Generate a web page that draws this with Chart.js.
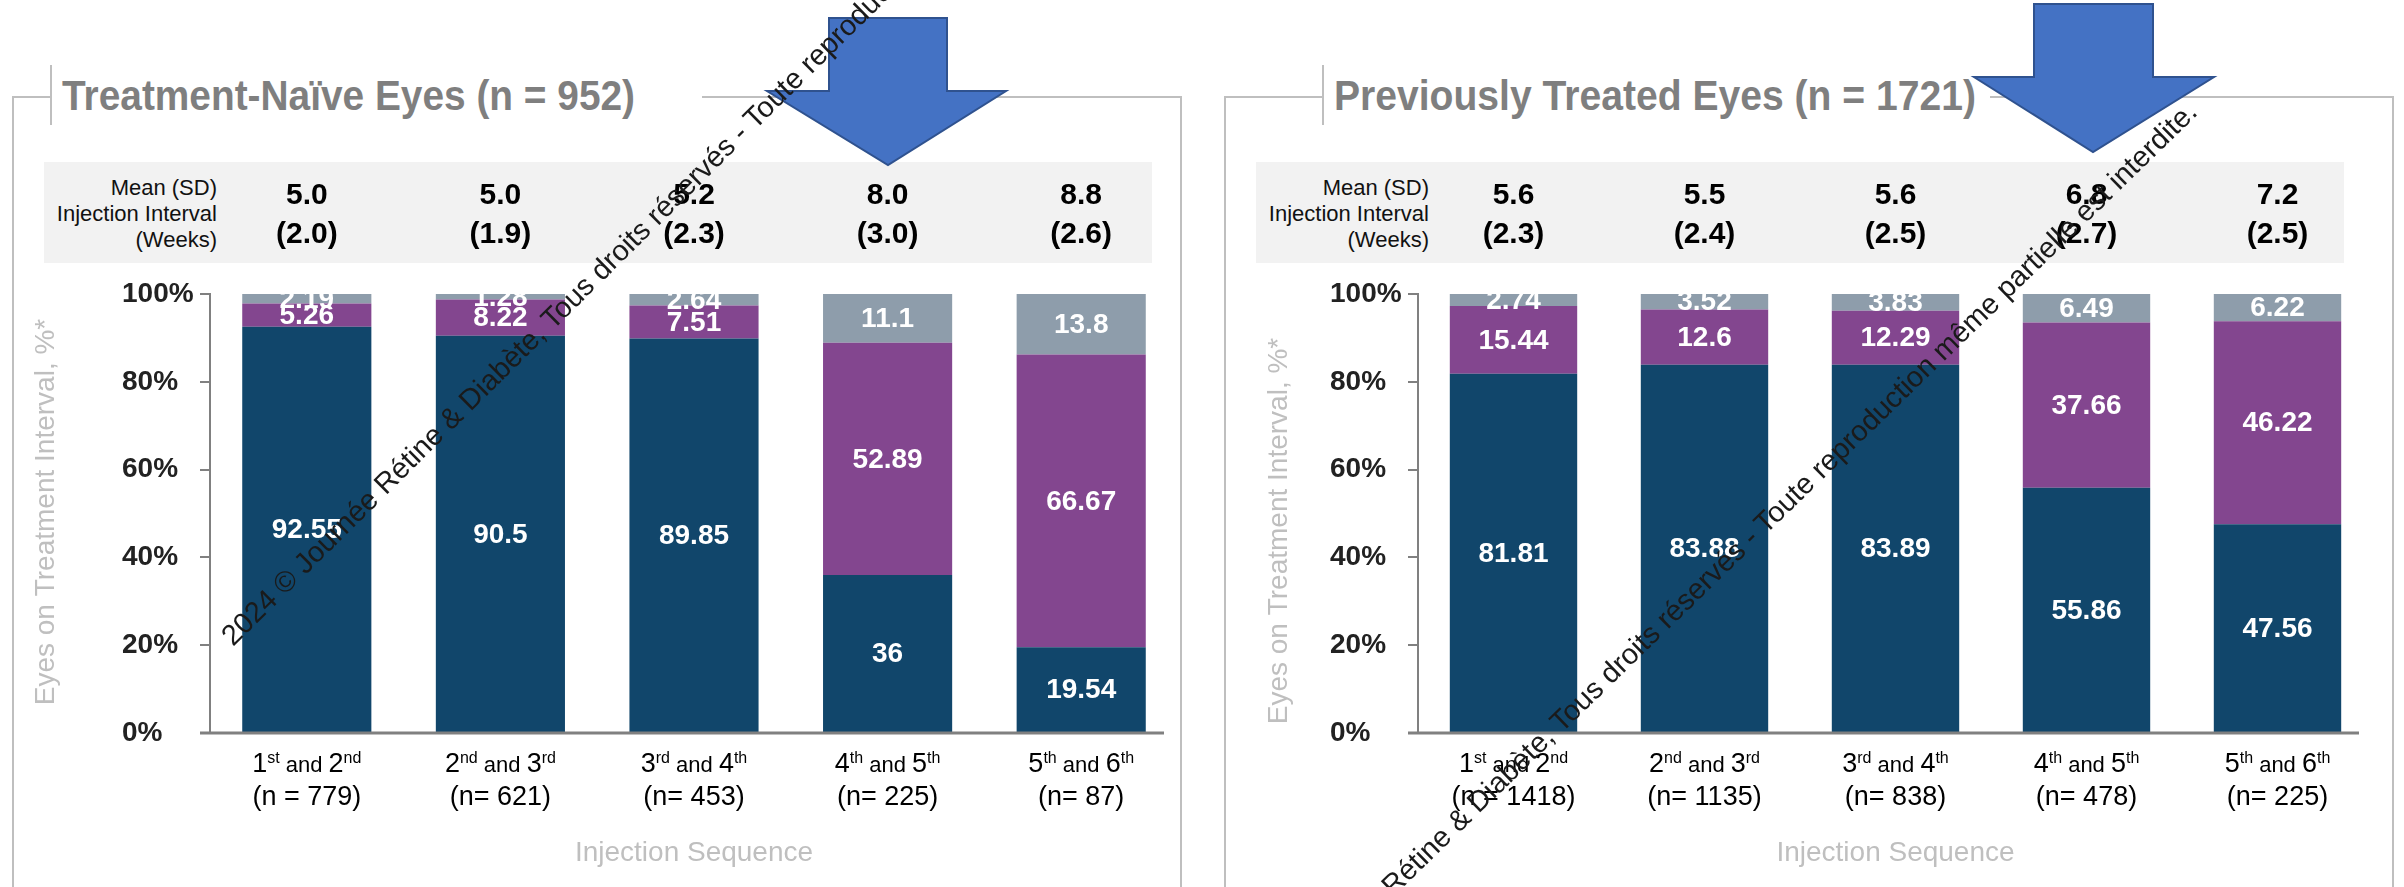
<!DOCTYPE html>
<html>
<head>
<meta charset="utf-8">
<title>Injection interval by sequence</title>
<script src="https://cdn.jsdelivr.net/npm/chart.js@4.4.0/dist/chart.umd.min.js"></script>
<style>
  html, body { margin: 0; padding: 0; background: #fff; }
  body { width: 2404px; height: 887px; position: relative; overflow: hidden;
         font-family: 'Liberation Sans', Arial, sans-serif; }
  .band { position: absolute; top: 162px; height: 101px; background: #f2f2f2; }
  canvas { position: absolute; top: 150px; }
  svg { position: absolute; left: 0; top: 0; }
</style>
</head>
<body>
<div class="band" style="left:44px; width:1108px"></div>
<div class="band" style="left:1256px; width:1088px"></div>

<svg width="2404" height="887" font-family="'Liberation Sans', Arial, sans-serif">
  <g stroke="#bfbfbf" stroke-width="2" fill="none">
    <path d="M13 887 V97 H51 M51 65 V125 M702 97 H1181 V887"/>
    <path d="M1225 887 V97 H1323 M1323 65 V125 M1990 97 H2393 V887"/>
  </g>
  <g font-weight="bold" font-size="43" fill="#7f7f7f">
    <text x="62" y="110" textLength="573" lengthAdjust="spacingAndGlyphs">Treatment-Naïve Eyes (n = 952)</text>
    <text x="1334" y="110" textLength="642" lengthAdjust="spacingAndGlyphs">Previously Treated Eyes (n = 1721)</text>
  </g>
  <g font-size="22" fill="#111" text-anchor="end">
    <text x="217" y="195">Mean (SD)</text>
    <text x="217" y="221">Injection Interval</text>
    <text x="217" y="247">(Weeks)</text>
    <text x="1429" y="195">Mean (SD)</text>
    <text x="1429" y="221">Injection Interval</text>
    <text x="1429" y="247">(Weeks)</text>
  </g>
</svg>

<canvas id="naiveChart" width="1190" height="737" style="left:0"></canvas>
<canvas id="treatedChart" width="1214" height="737" style="left:1190px"></canvas>

<svg width="2404" height="887" font-family="'Liberation Sans', Arial, sans-serif">
  <g fill="#4472c4" stroke="#2f528f" stroke-width="2">
    <polygon points="829,18 947,18 947,91 1006,91 888,165 767,91 829,91"/>
    <polygon points="2034,4 2153,4 2153,77 2214,77 2093,152 1974,77 2034,77"/>
  </g>
  <g font-size="29" fill="#1a1a1a">
    <text x="233" y="647" transform="rotate(-44.7 233 647)">2024 © Journée Rétine &amp; Diabète, Tous droits réservés - Toute reproduction même partielle est interdite.</text>
    <text x="1239" y="1047" transform="rotate(-44.2 1239 1047)">2024 © Journée Rétine &amp; Diabète, Tous droits réservés - Toute reproduction même partielle est interdite.</text>
  </g>
</svg>

<script>
// injection pairs along the x axis and group sizes under each pair
const pairs = [[1, 2], [2, 3], [3, 4], [4, 5], [5, 6]];
const naiveCounts = ['(n = 779)', '(n= 621)', '(n= 453)', '(n= 225)', '(n= 87)'];
const treatedCounts = ['(n = 1418)', '(n= 1135)', '(n= 838)', '(n= 478)', '(n= 225)'];

// mean (SD) injection interval, weeks
const naiveMean = [5.0, 5.0, 5.2, 8.0, 8.8];
const naiveSd = [2.0, 1.9, 2.3, 3.0, 2.6];
const treatedMean = [5.6, 5.5, 5.6, 6.8, 7.2];
const treatedSd = [2.3, 2.4, 2.5, 2.7, 2.5];

// share of eyes on each treatment interval, %
const naiveShort = [92.55, 90.5, 89.85, 36, 19.54];
const naiveMid = [5.26, 8.22, 7.51, 52.89, 66.67];
const naiveLong = [2.19, 1.28, 2.64, 11.1, 13.8];
const treatedShort = [81.81, 83.88, 83.89, 55.86, 47.56];
const treatedMid = [15.44, 12.6, 12.29, 37.66, 46.22];
const treatedLong = [2.74, 3.52, 3.83, 6.49, 6.22];

const yTitle = 'Eyes on Treatment Interval, %*';
const xTitle = 'Injection Sequence';

const FONT = "'Liberation Sans', Arial, sans-serif";
const COLORS = { short: '#11466b', mid: '#83468f', long: '#8e9dab' };

Chart.defaults.font.family = FONT;

function suffix(n) {
    return { 1: 'st', 2: 'nd', 3: 'rd' }[n] || 'th';
}

// baseline, segment values, category labels, table of means and rotated y title
const panelDecor = {
    id: 'panelDecor',
    afterDatasetsDraw(chart) {
        const { ctx, chartArea } = chart;
        const y0 = chart.scales.y.getPixelForValue(0);

        ctx.save();
        ctx.strokeStyle = '#808080';
        ctx.lineWidth = 3;
        ctx.beginPath();
        ctx.moveTo(chartArea.left - 10, y0);
        ctx.lineTo(chartArea.right - 14, y0);
        ctx.stroke();

        ctx.font = 'bold 28px ' + FONT;
        ctx.fillStyle = '#ffffff';
        ctx.textAlign = 'center';
        ctx.textBaseline = 'middle';
        chart.data.datasets.forEach((ds, i) => {
            chart.getDatasetMeta(i).data.forEach((bar, j) => {
                const p = bar.getProps(['x', 'y', 'base'], true);
                ctx.fillText(String(ds.data[j]), p.x, (p.y + p.base) / 2 + 1);
            });
        });
        ctx.restore();
    },
    afterDraw(chart, args, opts) {
        const { ctx } = chart;
        const xs = chart.scales.x;

        ctx.save();
        ctx.fillStyle = '#000';
        ctx.textBaseline = 'alphabetic';

        pairs.forEach(([a, b], i) => {
            const cx = xs.getPixelForValue(i);

            // mean (SD) row
            ctx.font = 'bold 30px ' + FONT;
            ctx.textAlign = 'center';
            ctx.fillText(opts.mean[i].toFixed(1), cx, 54);
            ctx.fillText('(' + opts.sd[i].toFixed(1) + ')', cx, 93);

            // "1st and 2nd" with raised suffixes
            const runs = [
                [String(a), '27px', 0], [suffix(a), '16px', -9],
                [' and ', '22px', 0],
                [String(b), '27px', 0], [suffix(b), '16px', -9]
            ];
            let total = 0;
            runs.forEach(r => { ctx.font = r[1] + ' ' + FONT; total += ctx.measureText(r[0]).width; });
            let x = cx - total / 2;
            ctx.textAlign = 'left';
            runs.forEach(r => {
                ctx.font = r[1] + ' ' + FONT;
                ctx.fillText(r[0], x, 622 + r[2]);
                x += ctx.measureText(r[0]).width;
            });

            ctx.font = '27px ' + FONT;
            ctx.textAlign = 'center';
            ctx.fillText(opts.counts[i], cx, 655);
        });

        ctx.translate(opts.yTitleX, opts.yTitleY);
        ctx.rotate(-Math.PI / 2);
        ctx.font = '28px ' + FONT;
        ctx.fillStyle = '#bfbfbf';
        ctx.textAlign = 'center';
        ctx.textBaseline = 'middle';
        ctx.fillText(yTitle, 0, 0);
        ctx.restore();
    }
};

function makePanel(id, short, mid, long, decor, pad) {
    const barPct = 0.667;
    return new Chart(document.getElementById(id), {
        type: 'bar',
        data: {
            labels: pairs.map(([a, b]) => a + suffix(a) + ' and ' + b + suffix(b)),
            datasets: [
                { label: 'short', data: short, backgroundColor: COLORS.short },
                { label: 'mid', data: mid, backgroundColor: COLORS.mid },
                { label: 'long', data: long, backgroundColor: COLORS.long }
            ].map(d => Object.assign(d, { barPercentage: barPct, categoryPercentage: 1, borderWidth: 0 }))
        },
        options: {
            responsive: false,
            animation: false,
            layout: { padding: { left: pad.left, right: pad.right, top: 144, bottom: 17 } },
            plugins: {
                legend: { display: false },
                tooltip: { enabled: false },
                panelDecor: decor
            },
            scales: {
                x: {
                    stacked: true,
                    ticks: { display: false },
                    grid: { display: false },
                    border: { display: false },
                    title: {
                        display: true, text: xTitle, color: '#bfbfbf',
                        font: { size: 28 }, padding: 0
                    },
                    afterFit: s => { s.height = 137; }
                },
                y: {
                    stacked: true,
                    min: 0, max: 100,
                    ticks: {
                        stepSize: 20, crossAlign: 'far', color: '#222',
                        font: { size: 28, weight: 'bold' },
                        callback: v => v + '%'
                    },
                    grid: { drawOnChartArea: false, drawTicks: true, tickLength: 10, color: '#808080', lineWidth: 2 },
                    border: { color: '#808080', width: 2 },
                    afterFit: s => { s.width = 88; }
                }
            }
        },
        plugins: [panelDecor]
    });
}

makePanel('naiveChart', naiveShort, naiveMid, naiveLong,
    { mean: naiveMean, sd: naiveSd, counts: naiveCounts, yTitleX: 46, yTitleY: 362 },
    { left: 122, right: 12 });

makePanel('treatedChart', treatedShort, treatedMid, treatedLong,
    { mean: treatedMean, sd: treatedSd, counts: treatedCounts, yTitleX: 89, yTitleY: 381 },
    { left: 140, right: 31 });
</script>
</body>
</html>
